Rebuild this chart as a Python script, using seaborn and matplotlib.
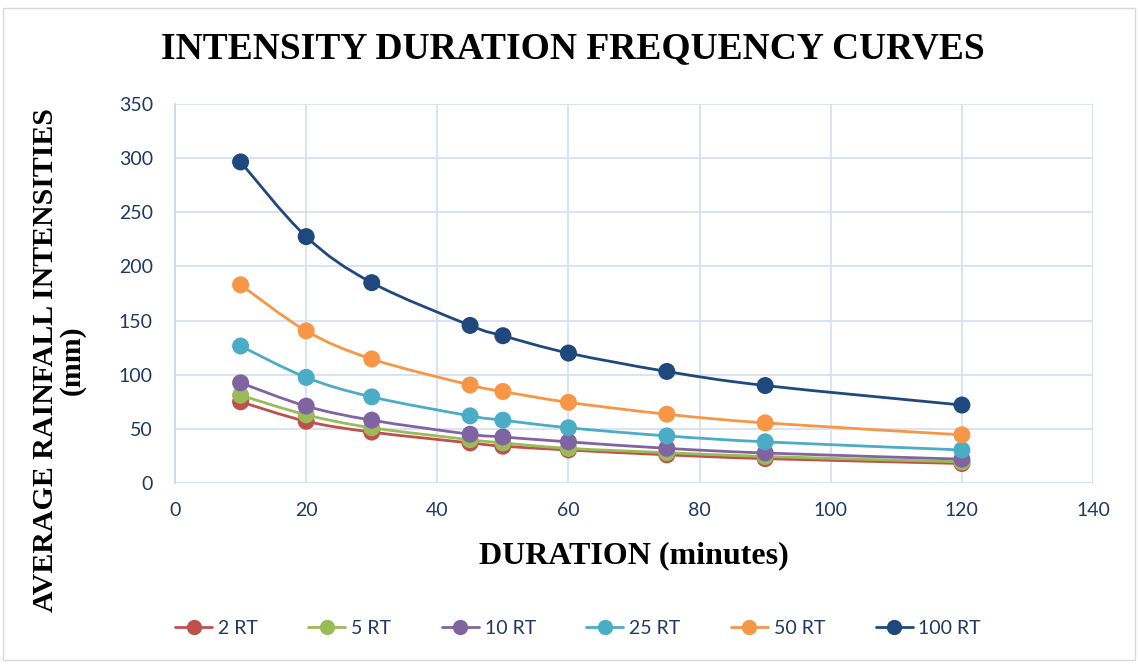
import numpy as np
import pandas as pd
import seaborn as sns
import matplotlib
matplotlib.use("Agg")
import matplotlib.pyplot as plt
from matplotlib.path import Path
from matplotlib.patches import PathPatch, Rectangle
from matplotlib.lines import Line2D

# Durations (minutes) and average rainfall intensities per return period
durations = [10, 20, 30, 45, 50, 60, 75, 90, 120]
rt_2 = [75, 57, 47, 37, 34, 30.5, 26, 22.5, 18]
rt_5 = [81, 63, 51, 40, 37, 32, 28, 24.5, 19.5]
rt_10 = [92.5, 71, 58, 45, 42.5, 38, 32, 27.7, 22]
rt_25 = [126.5, 97.5, 79.5, 62, 58, 51, 43.5, 38, 30.5]
rt_50 = [183, 140.5, 114.5, 90.5, 84.5, 74.5, 63.5, 55.5, 44.5]
rt_100 = [296.5, 227.5, 185, 145.5, 136, 120, 103, 90, 72]

series_names = ["2 RT", "5 RT", "10 RT", "25 RT", "50 RT", "100 RT"]
series_values = [rt_2, rt_5, rt_10, rt_25, rt_50, rt_100]
colors = ["#C0504D", "#9BBB59", "#8064A2", "#4BACC6", "#F79646", "#1F497D"]

x_ticks = [0, 20, 40, 60, 80, 100, 120, 140]
y_ticks = [0, 50, 100, 150, 200, 250, 300, 350]

df = pd.DataFrame(
    [(d, v, name) for name, vals in zip(series_names, series_values)
     for d, v in zip(durations, vals)],
    columns=["duration", "intensity", "series"],
)

sns.set_theme(style="white")
plt.rcParams["font.family"] = ["Lato", "DejaVu Sans"]
serif = ["Liberation Serif", "DejaVu Serif"]

fig = plt.figure(figsize=(11.38, 6.64), dpi=100)
ax = fig.add_axes([0.1538, 0.2726, 0.8067, 0.5708])

# light outer frame of the chart area
fig.patches.append(Rectangle((0.003, 0.006), 0.994, 0.982, transform=fig.transFigure,
                             fill=False, edgecolor="#D9D9D9", linewidth=1.0))

def smooth_path(xs, ys, tension=0.17):
    """Bezier path through the points, Catmull-Rom style control handles."""
    xs = np.asarray(xs, float)
    ys = np.asarray(ys, float)
    verts = [(xs[0], ys[0])]
    codes = [Path.MOVETO]
    n = len(xs)
    for i in range(n - 1):
        p0 = np.array([xs[max(i - 1, 0)], ys[max(i - 1, 0)]])
        p1 = np.array([xs[i], ys[i]])
        p2 = np.array([xs[i + 1], ys[i + 1]])
        p3 = np.array([xs[min(i + 2, n - 1)], ys[min(i + 2, n - 1)]])
        c1 = p1 + (p2 - p0) * tension
        c2 = p2 - (p3 - p1) * tension
        verts += [tuple(c1), tuple(c2), tuple(p2)]
        codes += [Path.CURVE4] * 3
    return Path(verts, codes)

for name, vals, col in zip(series_names, series_values, colors):
    ax.add_patch(PathPatch(smooth_path(durations, vals), facecolor="none",
                           edgecolor=col, linewidth=2.0, zorder=3))

sns.scatterplot(data=df, x="duration", y="intensity", hue="series",
                hue_order=series_names, palette=colors, s=150,
                edgecolor="none", legend=False, ax=ax, zorder=4)

ax.set_xlim(0, 140)
ax.set_ylim(0, 350)
ax.set_xticks(x_ticks)
ax.set_yticks(y_ticks)
tick_color = "#1F3864"
ax.tick_params(axis="both", length=0, labelsize=14, labelcolor=tick_color)
ax.tick_params(axis="y", pad=16)
ax.tick_params(axis="x", pad=14)
ax.grid(True, color="#D6E0F0", linewidth=1.3)
ax.set_axisbelow(True)
for side in ["top", "right", "bottom"]:
    ax.spines[side].set_visible(False)
ax.spines["left"].set_color("#C9D7EE")
ax.spines["left"].set_linewidth(1.3)

ax.set_xlabel("DURATION (minutes)", fontsize=23, fontweight="bold",
              family=serif, color="black", labelpad=16)
ax.set_ylabel("AVERAGE RAINFALL INTENSITIES\n(mm)", fontsize=21.5, fontweight="bold",
              family=serif, color="black", linespacing=1.0)
ax.yaxis.set_label_coords(-0.097, 0.325)

fig.text(0.5035, 0.927, "INTENSITY DURATION FREQUENCY CURVES", ha="center", va="center",
         fontsize=27, fontweight="bold", family=serif, color="black")

handles = [Line2D([0], [0], color=c, linewidth=2, marker="o", markersize=11,
                  markeredgecolor="none") for c in colors]
leg = fig.legend(handles, series_names, loc="center", bbox_to_anchor=(0.508, 0.054),
                 ncol=6, frameon=False, fontsize=14, handlelength=1.9,
                 columnspacing=2.6, handletextpad=0.3)
for t in leg.get_texts():
    t.set_color(tick_color)

fig.savefig("out.png", dpi=100)
